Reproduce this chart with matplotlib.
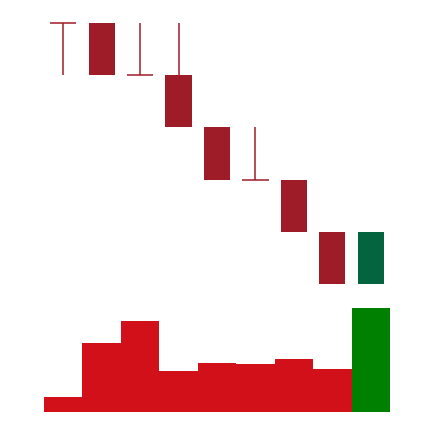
import matplotlib
matplotlib.use("Agg")
import matplotlib.pyplot as plt
import numpy as np

# OHLC per day (price units), and volume
opens = [6, 6, 5, 5, 4, 3, 3, 2, 1]
highs = [6, 6, 6, 6, 4, 4, 3, 2, 2]
lows = [5, 5, 5, 4, 3, 3, 2, 1, 1]
closes = [6, 5, 5, 4, 3, 3, 2, 1, 2]
volumes = [14, 68, 90, 40, 48, 47, 52, 42, 103]

up_color = "#04643f"
down_color = "#9e1c28"
vol_up = "#008000"
vol_down = "#d2101a"

W, H = 434, 422
fig = plt.figure(figsize=(W / 100, H / 100), dpi=100)

left, right = 44, 390
ax = fig.add_axes([left / W, (H - 284) / H, (right - left) / W, (284 - 23) / H])
axv = fig.add_axes([left / W, (H - 411.5) / H, (right - left) / W, (411.5 - 308) / H])

x = np.arange(len(opens))
body_w = 0.68

for i in x:
    o, h, l, c = opens[i], highs[i], lows[i], closes[i]
    col = up_color if c > o else down_color
    ax.vlines(i, l, h, color=col, lw=1.1, clip_on=False)
    if o == c:
        ax.hlines(o, i - body_w / 2, i + body_w / 2, color=col, lw=1.1, clip_on=False)
    else:
        ax.bar(i, abs(c - o), bottom=min(o, c), width=body_w, color=col, clip_on=False)

ax.set_xlim(-0.5, len(opens) - 0.5)
ax.set_ylim(1, 6)
ax.axis("off")

vcols = [vol_up if closes[i] > opens[i] else vol_down for i in x]
axv.bar(x, volumes, width=1.0, color=vcols)
axv.set_xlim(-0.5, len(opens) - 0.5)
axv.set_ylim(0, max(volumes))
axv.axis("off")

fig.savefig("out.png", dpi=100)
